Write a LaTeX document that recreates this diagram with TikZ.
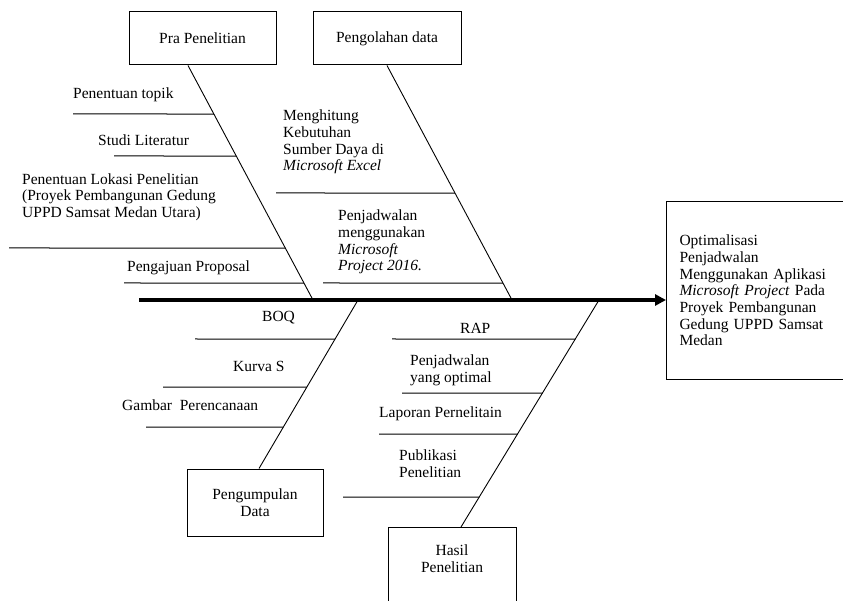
\documentclass[tikz,border=0pt]{standalone}
\usepackage{fontspec}
\setmainfont{Liberation Serif}
\usetikzlibrary{arrows.meta}

\begin{document}
\begin{tikzpicture}[x=1pt,y=-1pt,
    font=\fontsize{15.5}{16.7}\selectfont,
    kotak/.style={draw,line width=1pt,inner sep=0pt,align=center},
    teks/.style={anchor=west,align=left,inner sep=0pt},
    tulang/.style={line width=0.9pt},
    rusuk/.style={line width=1pt}]
    \useasboundingbox (0,0) rectangle (843,601);
    \clip (0,0) rectangle (843,601);
    \def\duri#1#2#3{\draw[rusuk] (#2,#3) -- (intersection of #1 and 0,#3--1,#3);}

    % kotak penyebab dan akibat
    \node[kotak,minimum width=147pt,minimum height=53pt] (pra) at (202.5,38.5) {Pra Penelitian};
    \node[kotak,minimum width=148pt,minimum height=53pt] (olah) at (387,38.5) {Pengolahan data};
    \node[kotak,minimum width=136pt,minimum height=67pt] (kumpul) at (255,502.5) {Pengumpulan\\Data};
    \node[kotak,anchor=north,minimum width=128pt,minimum height=90pt] (hasil) at (452,527) {};
    \node[align=center] (hasilteks) at (452,559) {Hasil\\Penelitian};
    \node[kotak,anchor=north west,minimum width=200pt,minimum height=178pt,
          text width=174pt,inner xsep=13pt,align=left] (tujuan) at (666,201)
          {Optimalisasi\\Penjadwalan\\Menggunakan Aplikasi\\\textit{Microsoft Project} Pada\\Proyek Pembangunan\\Gedung UPPD Samsat\\Medan};

    % tulang utama
    \coordinate (ekor) at (139,300);
    \draw[line width=3.2pt,-{Triangle[length=11pt,width=11pt]}] (ekor) -- (ekor -| tujuan.west);

    % tulang cabang
    \coordinate (praujung) at ([xshift=-14.5pt]pra.south);
    \coordinate (prapangkal) at (313,300);
    \coordinate (olahujung) at (olah.south);
    \coordinate (olahpangkal) at (512,300);
    \coordinate (kumpulujung) at ([xshift=4pt]kumpul.north);
    \coordinate (kumpulpangkal) at (358,300);
    \coordinate (hasilujung) at ([xshift=9pt]hasil.north);
    \coordinate (hasilpangkal) at (599,300);
    \draw[tulang] (praujung) -- (prapangkal);
    \draw[tulang] (olahujung) -- (olahpangkal);
    \draw[tulang] (kumpulujung) -- (kumpulpangkal);
    \draw[tulang] (hasilujung) -- (hasilpangkal);

    % Pra Penelitian
    \duri{praujung--prapangkal}{73}{114}
    \duri{praujung--prapangkal}{114}{156}
    \duri{praujung--prapangkal}{9}{248}
    \duri{praujung--prapangkal}{124}{283}
    \node[teks] (topik) at (73,95) {Penentuan topik};
    \node[teks] (studi) at (98,140) {Studi Literatur};
    \node[teks] (lokasi) at (22,197) {Penentuan Lokasi Penelitian\\(Proyek Pembangunan Gedung\\UPPD Samsat Medan Utara)};
    \node[teks] (proposal) at (127,268) {Pengajuan Proposal};

    % Pengolahan data
    \duri{olahujung--olahpangkal}{276}{193}
    \duri{olahujung--olahpangkal}{323}{283}
    \node[teks] (hitung) at (283,142) {Menghitung\\Kebutuhan\\Sumber Daya di\\\textit{Microsoft Excel}};
    \node[teks] (jadwal) at (338,242) {Penjadwalan\\menggunakan\\\textit{Microsoft}\\\textit{Project 2016.}};

    % Pengumpulan Data
    \duri{kumpulujung--kumpulpangkal}{195}{339}
    \duri{kumpulujung--kumpulpangkal}{163}{387}
    \duri{kumpulujung--kumpulpangkal}{146}{427}
    \node[teks] (boq) at (262,318) {BOQ};
    \node[teks] (kurva) at (233,366) {Kurva S};
    \node[teks] (gambar) at (122,405) {Gambar~~Perencanaan};

    % Hasil Penelitian
    \duri{hasilujung--hasilpangkal}{392}{339}
    \duri{hasilujung--hasilpangkal}{402}{393}
    \duri{hasilujung--hasilpangkal}{379}{434}
    \duri{hasilujung--hasilpangkal}{343}{497}
    \node[teks] (rap) at (460,328) {RAP};
    \node[teks] (optimal) at (410,370) {Penjadwalan\\yang optimal};
    \node[teks] (laporan) at (379,414) {Laporan Pernelitain};
    \node[teks] (publikasi) at (399,464) {Publikasi\\Penelitian};
\end{tikzpicture}
\end{document}
